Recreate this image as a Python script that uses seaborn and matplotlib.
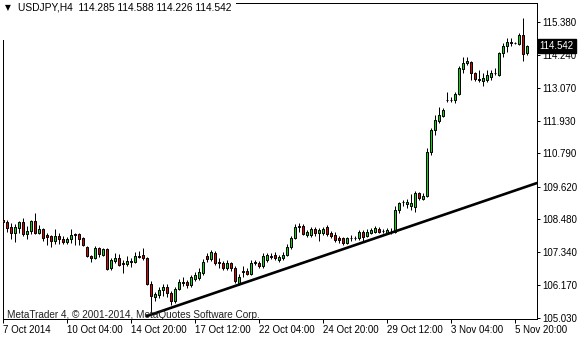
import numpy as np
import pandas as pd
import matplotlib
matplotlib.use("Agg")
import matplotlib.pyplot as plt
import matplotlib.transforms as mtransforms
from matplotlib.patches import Rectangle
import seaborn as sns

# ---------------- data (USDJPY, H4 candles) ----------------
opens = [108.46,108.39,108.22,108.01,108.18,108.39,107.97,108.08,108.43,108.01,
         108.15,107.94,107.90,107.73,107.90,107.80,107.69,107.80,107.97,107.97,
         107.83,107.52,107.20,107.13,107.48,107.24,107.45,106.78,107.03,107.13,
         106.96,106.92,106.99,106.99,107.20,107.24,107.13,106.22,105.77,105.84,
         106.01,106.12,105.91,105.63,106.05,106.29,106.29,106.19,106.40,106.43,
         106.61,107.20,107.10,107.31,106.99,106.96,106.78,106.96,106.78,106.26,
         106.64,106.68,106.57,106.96,106.96,106.85,107.06,107.20,107.24,107.06,
         107.13,107.24,107.52,107.83,108.25,108.25,107.94,107.94,108.15,108.01,
         108.01,108.22,108.01,107.94,107.83,107.83,107.66,107.83,107.83,107.83,
         108.04,107.90,108.01,108.04,108.15,108.08,108.01,108.04,108.04,108.81,
         109.09,109.02,108.95,108.92,109.41,109.20,109.30,110.84,111.61,111.93,
         112.10,112.66,112.66,112.66,112.87,113.75,113.96,113.99,113.60,113.40,
         113.33,113.36,113.47,113.60,113.54,114.30,114.55,114.69,114.65,114.62,
         114.94,114.285]
highs = [108.74,108.46,108.36,108.32,108.43,108.53,108.25,108.46,108.70,108.28,
         108.18,108.01,107.94,108.15,108.01,107.90,107.87,108.15,108.01,108.01,
         107.87,107.55,107.24,107.55,107.52,107.48,107.48,107.13,107.31,107.27,
         107.06,107.20,107.13,107.34,107.38,107.48,107.17,106.33,105.94,106.12,
         106.22,106.22,105.97,106.12,106.40,106.47,106.36,106.54,106.64,106.78,
         107.10,107.31,107.41,107.38,107.13,107.03,107.06,106.99,106.85,106.57,
         106.85,106.78,107.06,107.06,107.03,107.31,107.31,107.31,107.34,107.24,
         107.34,107.62,107.90,108.32,108.36,108.32,108.11,108.22,108.22,108.18,
         108.22,108.28,108.08,108.04,107.90,107.87,107.87,107.94,107.90,108.11,
         108.11,108.15,108.18,108.25,108.22,108.15,108.18,108.18,108.95,109.09,
         109.16,109.20,109.37,109.48,109.44,109.41,110.98,111.68,112.14,112.42,
         112.38,112.94,112.77,112.94,113.85,114.16,114.16,114.03,113.64,113.71,
         113.60,113.71,113.71,113.78,114.34,114.65,114.83,114.83,114.69,115.00,
         115.53,114.588]
lows = [108.28,108.04,107.80,107.69,108.01,107.90,107.80,107.97,107.97,107.97,
        107.73,107.59,107.52,107.62,107.62,107.62,107.62,107.66,107.59,107.59,
        107.55,107.17,106.99,107.10,107.17,107.20,106.71,106.71,106.96,106.85,
        106.61,106.85,106.82,106.96,107.13,107.06,106.19,105.14,105.63,105.73,
        105.80,105.77,105.49,105.56,106.01,106.15,106.08,106.12,106.33,106.36,
        106.54,106.99,107.03,106.89,106.78,106.71,106.71,106.68,106.26,106.19,
        106.47,106.54,106.54,106.89,106.78,106.78,106.99,107.10,107.06,106.99,
        107.06,107.20,107.45,107.80,108.04,107.94,107.87,107.87,107.90,107.73,
        107.94,107.90,107.83,107.69,107.66,107.59,107.62,107.73,107.76,107.76,
        107.69,107.87,107.97,108.01,108.01,108.01,107.97,107.97,108.01,108.70,
        108.95,108.88,108.81,108.74,109.16,109.16,109.27,110.74,111.44,111.86,
        112.07,112.59,112.59,112.56,112.84,113.60,113.89,113.36,113.33,113.29,
        113.15,113.29,113.36,113.54,113.50,114.16,114.34,114.55,114.62,114.59,
        114.03,114.226]
closes = [108.39,108.18,108.01,108.22,108.39,107.97,108.08,108.43,108.01,108.15,
          107.83,107.87,107.73,107.90,107.80,107.69,107.80,107.94,107.94,107.80,
          107.59,107.20,107.13,107.48,107.27,107.45,106.75,107.06,107.13,106.89,
          106.92,107.03,107.03,107.20,107.17,107.13,106.22,105.80,105.87,106.01,
          106.12,105.91,105.63,106.05,106.29,106.26,106.19,106.47,106.54,106.64,
          106.99,107.10,107.34,106.96,106.96,106.78,106.96,106.78,106.33,106.47,
          106.68,106.57,106.96,106.99,106.85,107.20,107.24,107.17,107.13,107.17,
          107.24,107.52,107.83,108.22,108.22,107.97,108.04,108.15,108.01,108.11,
          108.15,107.97,107.90,107.76,107.76,107.66,107.83,107.84,107.83,108.04,
          107.87,108.04,108.11,108.18,108.04,108.08,108.11,108.04,108.81,109.06,
          109.09,109.09,109.06,109.41,109.23,109.30,110.84,111.61,111.96,112.14,
          112.31,112.66,112.66,112.87,113.78,113.96,114.03,113.60,113.40,113.36,
          113.43,113.54,113.60,113.60,114.30,114.55,114.69,114.65,114.65,114.94,
          114.27,114.542]

x_tick_labels = ["7 Oct 2014", "10 Oct 04:00", "14 Oct 20:00", "17 Oct 12:00",
                 "22 Oct 04:00", "24 Oct 20:00", "29 Oct 12:00", "3 Nov 04:00",
                 "5 Nov 20:00"]
candles_per_label = 16
price_ticks = [115.38, 114.24, 113.07, 111.93, 110.79, 109.62, 108.48, 107.34, 106.17, 105.03]

trend_idx = [36, 133.5]
trend_price = [105.10, 109.75]

symbol = "USDJPY,H4"
last_price = 114.542
copyright_text = "MetaTrader 4, \u00a9 2001-2014, MetaQuotes Software Corp."

# ---------------- drawing ----------------
sns.set_style("white")
plt.rcParams['font.family'] = ['Liberation Sans', 'DejaVu Sans']

W, H = 580, 340
fig = plt.figure(figsize=(W / 100, H / 100), dpi=100)
fig.patch.set_facecolor("white")
ax = fig.add_axes([2.5 / W, (H - 319) / H, 534 / W, 316 / H])
ax.set_facecolor("white")

df = pd.DataFrame({"idx": np.arange(len(opens)), "open": opens, "high": highs,
                   "low": lows, "close": closes})
df["up"] = df["close"] >= df["open"]
df["body_lo"] = df[["open", "close"]].min(axis=1)
df["body_h"] = (df["close"] - df["open"]).abs()

px = 0.72  # one pixel in points
ax.vlines(df["idx"], df["low"], df["high"], color="black", lw=px, zorder=2)
colors = np.where(df["up"], "#00e000", "#e00000")
ax.bar(df["idx"], df["body_h"], bottom=df["body_lo"], width=0.5, color=colors,
       edgecolor="black", linewidth=px, zorder=3)

tl = pd.DataFrame({"idx": trend_idx, "price": trend_price})
sns.lineplot(data=tl, x="idx", y="price", ax=ax, color="black", lw=1.9, zorder=4)

ax.set_xlim(-0.125, 133.375)
ax.set_ylim(104.995, 116.045)
ax.set_xlabel("")
ax.set_ylabel("")

for s in ax.spines.values():
    s.set_color("black")
    s.set_linewidth(px)
    s.set_visible(True)

ax.yaxis.tick_right()
ax.set_yticks(price_ticks)
ax.set_yticklabels([f"{v:.3f}" for v in price_ticks])
ax.tick_params(axis="y", direction="out", length=2.5, width=px, pad=2,
               labelsize=7, colors="black", right=True, left=False)

xt = [i * candles_per_label for i in range(len(x_tick_labels))]
ax.set_xticks(xt)
ax.set_xticklabels(x_tick_labels, ha="left")
ax.tick_params(axis="x", direction="out", length=3, width=px, pad=1.5,
               labelsize=7, colors="black", bottom=True)

# current price tag
trans = mtransforms.blended_transform_factory(ax.transAxes, ax.transData)
ax.text(1.0 + 3 / 534, last_price, f"{last_price:.3f}", transform=trans,
        color="white", fontsize=7, va="center", ha="left", zorder=10,
        bbox=dict(boxstyle="square,pad=0.2", fc="black", ec="black"),
        clip_on=False)

# header area (white label background over the frame corner)
fig.patches.append(Rectangle((0, 1 - 40 / H), 236 / W, 40 / H, transform=fig.transFigure,
                             facecolor="white", edgecolor="none", zorder=5))
hdr = f"{symbol}  {opens[-1]:.3f} {highs[-1]:.3f} {lows[-1]:.3f} {closes[-1]:.3f}"
fig.text(5 / W, 1 - 8 / H, "\u25bc", fontsize=5.5, va="center", ha="left",
         family=["DejaVu Sans"], color="black", zorder=6)
fig.text(18 / W, 1 - 8 / H, hdr, fontsize=7.4, va="center", ha="left", color="black",
         zorder=6)

# copyright
fig.text(7 / W, 1 - 315 / H, copyright_text, fontsize=7.2, va="center", ha="left",
         color="#222222")

fig.savefig("out.png", dpi=100, facecolor="white")
